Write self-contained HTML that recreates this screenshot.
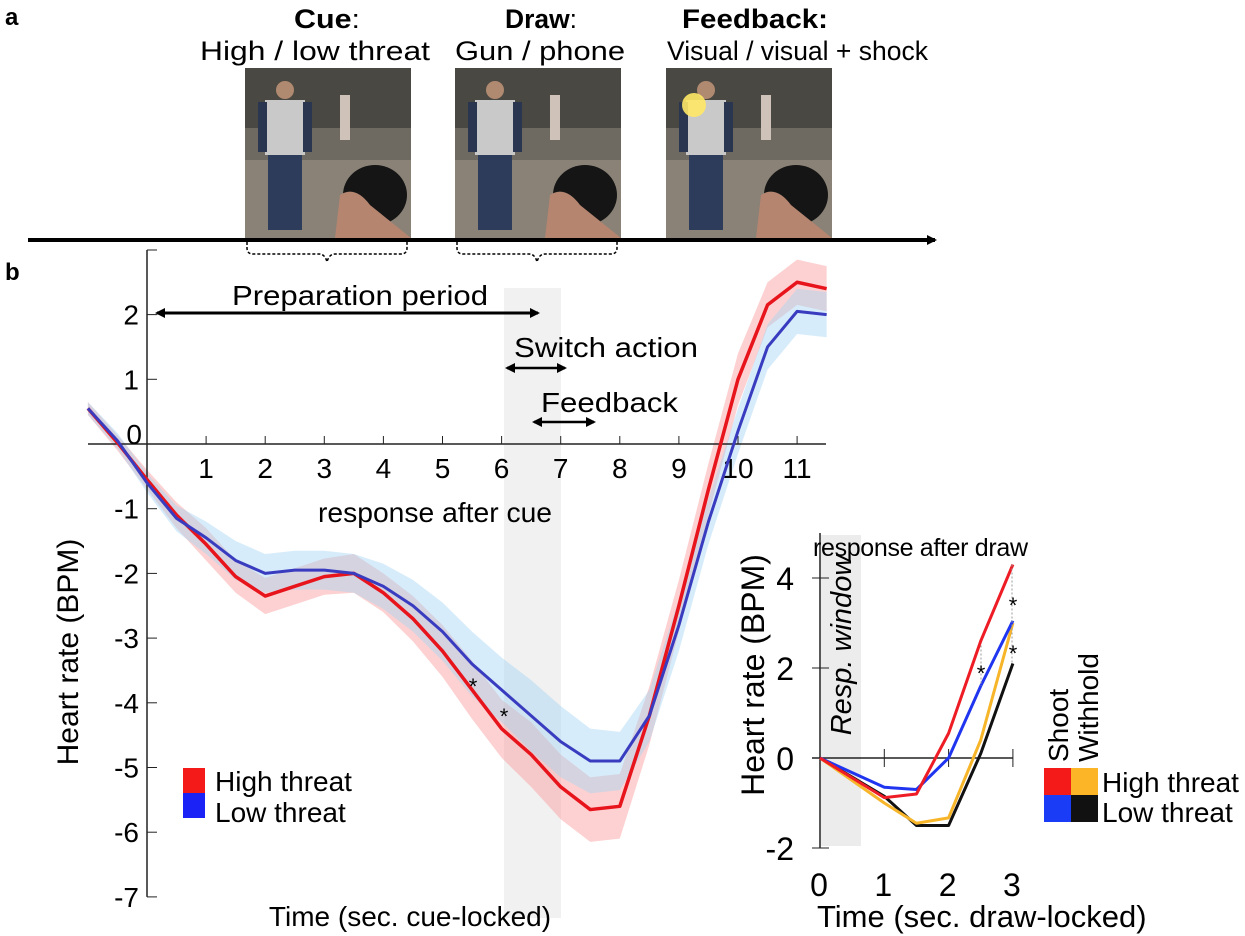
<!DOCTYPE html>
<html><head><meta charset="utf-8"><style>
body{margin:0;background:#fff}
svg{display:block;font-family:"Liberation Sans",Arial,sans-serif}
</style></head><body>
<svg id="s" width="1245" height="936" viewBox="0 0 1245 936">
<defs>
<marker id="ah" markerWidth="10" markerHeight="10" refX="8" refY="5" orient="auto-start-reverse" markerUnits="userSpaceOnUse"><path d="M0,0 L10,5 L0,10 z" fill="#000"/></marker>
</defs>
<text x="5" y="25" font-size="24" font-weight="bold">a</text>
<text x="5" y="280" font-size="24" font-weight="bold">b</text>
<g font-size="27">
<text x="294" y="28" font-weight="bold" textLength="66" lengthAdjust="spacingAndGlyphs">Cue<tspan font-weight="normal">:</tspan></text>
<text x="200" y="60" textLength="230" lengthAdjust="spacingAndGlyphs">High / low threat</text>
<text x="505" y="28" font-weight="bold" textLength="72" lengthAdjust="spacingAndGlyphs">Draw<tspan font-weight="normal">:</tspan></text>
<text x="455" y="60" textLength="170" lengthAdjust="spacingAndGlyphs">Gun / phone</text>
<text x="682" y="28" font-weight="bold" textLength="146" lengthAdjust="spacingAndGlyphs">Feedback:</text>
<text x="667" y="60" textLength="261" lengthAdjust="spacingAndGlyphs">Visual / visual + shock</text>
</g>
<g id="imgs"></g>
<line x1="28" y1="240" x2="935" y2="240" stroke="#000" stroke-width="4" marker-end="url(#ah)"/>
<path d="M247,242 v6 q0,6 6,6 h66 q6,0 8,8 q2,-8 8,-8 h66 q6,0 6,-6 v-6" fill="none" stroke="#000" stroke-width="1.5" stroke-dasharray="3,2"/>
<path d="M457,242 v6 q0,6 6,6 h66 q6,0 8,8 q2,-8 8,-8 h66 q6,0 6,-6 v-6" fill="none" stroke="#000" stroke-width="1.5" stroke-dasharray="3,2"/>
<g id="main"></g>
<g id="inset"></g>
</svg>
<script>
const NS="http://www.w3.org/2000/svg";
function mk(p,tag,attrs,txt){const e=document.createElementNS(NS,tag);for(const k in attrs)e.setAttribute(k,attrs[k]);if(txt!==undefined)e.textContent=txt;p.appendChild(e);return e;}
const imgs=document.getElementById('imgs');
const imgX=[245,455,666];
const imgNames=['cue-image','draw-image','feedback-image'];
imgX.forEach((x,i)=>{
 const g=mk(imgs,'g',{});
 
 
 mk(g,'rect',{x:x,y:68,width:166,height:170,fill:'#6e6a62'});
 mk(g,'rect',{x:x,y:68,width:166,height:60,fill:'#4a4842'});
 mk(g,'rect',{x:x,y:160,width:166,height:78,fill:'#8a8276'});
 mk(g,'rect',{x:x+95,y:95,width:10,height:45,fill:'#cfc2b8'});
 mk(g,'rect',{x:x+20,y:100,width:40,height:55,fill:'#c9c9c9'});
 mk(g,'rect',{x:x+13,y:102,width:9,height:50,fill:'#2a3550'});
 mk(g,'rect',{x:x+58,y:102,width:9,height:50,fill:'#2a3550'});
 mk(g,'circle',{cx:x+40,cy:90,r:9,fill:'#b08a70'});
 mk(g,'rect',{x:x+23,y:155,width:34,height:75,fill:'#2e3c5c'});
 mk(g,'ellipse',{cx:x+130,cy:195,rx:32,ry:30,fill:'#151515'});
 mk(g,'path',{d:`M${x+90},${238} L${x+95},${195} Q${x+110},${185} ${x+125},${205} L${x+166},${238} z`,fill:'#b58570'});
 if(i===2) mk(g,'circle',{cx:x+28,cy:105,r:12,fill:'#ffe866',opacity:0.9});
});

const times=[-1,-0.5,0,0.5,1,1.5,2,2.5,3,3.5,4,4.5,5,5.5,6,6.5,7,7.5,8,8.5,9,9.5,10,10.5,11,11.5];
const highThreat=[0.55,0.02,-0.55,-1.1,-1.55,-2.05,-2.35,-2.2,-2.05,-2.0,-2.3,-2.7,-3.2,-3.8,-4.4,-4.8,-5.3,-5.65,-5.6,-4.2,-2.5,-0.7,1.0,2.15,2.5,2.4];
const lowThreat=[0.55,0.05,-0.6,-1.15,-1.45,-1.8,-2.0,-1.95,-1.95,-2.0,-2.2,-2.5,-2.9,-3.4,-3.8,-4.2,-4.6,-4.9,-4.9,-4.2,-2.8,-1.2,0.2,1.5,2.05,2.0];
const highErr=[0.1,0.12,0.15,0.2,0.25,0.25,0.28,0.28,0.28,0.3,0.3,0.35,0.4,0.45,0.45,0.5,0.5,0.5,0.5,0.45,0.4,0.4,0.4,0.35,0.35,0.35];
const lowErr=[0.1,0.12,0.15,0.2,0.25,0.3,0.3,0.3,0.3,0.3,0.35,0.4,0.45,0.5,0.5,0.55,0.55,0.5,0.45,0.4,0.4,0.35,0.35,0.35,0.35,0.35];
const yTicks=[2,1,0,-1,-2,-3,-4,-5,-6,-7];
const xTicks=[1,2,3,4,5,6,7,8,9,10,11];
const X=t=>147+59.1*t, Y=v=>444-64.7*v;
const m=document.getElementById('main');
let e;
e=mk(m,'rect',{x:504,y:288,width:57,height:630,fill:'#e8e8e8',opacity:0.6});


function band(vals,err,fill,name){
 let d='M'+times.map((t,i)=>X(t)+','+Y(vals[i]+err[i])).join(' L');
 d+=' L'+times.slice().reverse().map((t,j)=>{const i=times.length-1-j;return X(t)+','+Y(vals[i]-err[i]);}).join(' L')+'z';
 const p=mk(m,'path',{d:d,fill:fill,opacity:0.45});
 
 
}
band(highThreat,highErr,'#fb9a9a','high-threat-band');
band(lowThreat,lowErr,'#a6d4f5','low-threat-band');
e=mk(m,'line',{x1:147,y1:250,x2:147,y2:Y(-7),stroke:'#222','stroke-width':1.5});


e=mk(m,'line',{x1:88,y1:Y(0),x2:826,y2:Y(0),stroke:'#222','stroke-width':1.5});


mk(m,'line',{x1:147,y1:250,x2:157,y2:250,stroke:'#222'});
yTicks.forEach(v=>{
 mk(m,'line',{x1:147,y1:Y(v),x2:157,y2:Y(v),stroke:'#222'});
 e=mk(m,'text',{x:v===0?142:139,y:Y(v)+(v===0?0:10),'font-size':28,'text-anchor':'end'},String(v));
 
 
});
xTicks.forEach(t=>{
 mk(m,'line',{x1:X(t),y1:Y(0),x2:X(t),y2:Y(0)-8,stroke:'#222'});
 e=mk(m,'text',{x:X(t),y:Y(0)+34,'font-size':28,'text-anchor':'middle'},String(t));
 
 
});
function line(vals,col,name,w){
 const p=mk(m,'polyline',{points:times.map((t,i)=>X(t)+','+Y(vals[i])).join(' '),fill:'none',stroke:col,'stroke-width':w,'stroke-linejoin':'round'});
 
 
}
line(highThreat,'#e8141c','high-threat-line',3.5);
line(lowThreat,'#3a3cc0','low-threat-line',3);
e=mk(m,'line',{x1:157,y1:313,x2:538,y2:313,stroke:'#000','stroke-width':3,'marker-start':'url(#ah)','marker-end':'url(#ah)'});


e=mk(m,'text',{x:232,y:305,'font-size':28,textLength:256,lengthAdjust:'spacingAndGlyphs'},'Preparation period');


e=mk(m,'text',{x:514,y:357,'font-size':28,textLength:184,lengthAdjust:'spacingAndGlyphs'},'Switch action');


e=mk(m,'line',{x1:507,y1:368,x2:565,y2:368,stroke:'#000','stroke-width':2.5,'marker-start':'url(#ah)','marker-end':'url(#ah)'});


e=mk(m,'text',{x:541,y:412,'font-size':28,textLength:137,lengthAdjust:'spacingAndGlyphs'},'Feedback');


e=mk(m,'line',{x1:534,y1:422,x2:594,y2:422,stroke:'#000','stroke-width':2.5,'marker-start':'url(#ah)','marker-end':'url(#ah)'});


e=mk(m,'text',{x:318,y:522,'font-size':28,textLength:234,lengthAdjust:'spacingAndGlyphs'},'response after cue');


e=mk(m,'text',{x:473,y:694,'font-size':22,'text-anchor':'middle'},'*');


e=mk(m,'text',{x:504,y:724,'font-size':22,'text-anchor':'middle'},'*');


e=mk(m,'text',{x:0,y:0,'font-size':30,'text-anchor':'middle',transform:'translate(78,652) rotate(-90)'},'Heart rate (BPM)');


e=mk(m,'text',{x:410,y:926,'font-size':28,'text-anchor':'middle'},'Time (sec. cue-locked)');


e=mk(m,'rect',{x:183,y:768,width:22,height:25,fill:'#f51a1a'});


e=mk(m,'rect',{x:183,y:793,width:22,height:25,fill:'#1a22f5'});


e=mk(m,'text',{x:215,y:791,'font-size':28},'High threat');


e=mk(m,'text',{x:215,y:822,'font-size':28},'Low threat');



const dTimes=[0,1,1.5,2,2.5,3];
const shootHigh=[0,-0.88,-0.8,0.55,2.6,4.3];
const shootLow=[0,-0.65,-0.7,0,1.6,3.05];
const withholdHigh=[0,-1.0,-1.45,-1.33,0.4,3.0];
const withholdLow=[0,-0.85,-1.5,-1.5,0.1,2.1];
const iyTicks=[4,2,0,-2];
const ixTicks=[0,1,2,3];
const IX=t=>820+64.3*t, IY=v=>758-45*v;
const n=document.getElementById('inset');
e=mk(n,'rect',{x:821,y:535,width:40,height:311,fill:'#ececec'});


e=mk(n,'text',{x:0,y:0,'font-size':29,'font-style':'italic','text-anchor':'middle',transform:'translate(851,645) rotate(-90)'},'Resp. window');


e=mk(n,'line',{x1:820,y1:533,x2:820,y2:IY(-2),stroke:'#222','stroke-width':1.5});


e=mk(n,'line',{x1:812,y1:IY(0),x2:IX(3),y2:IY(0),stroke:'#222','stroke-width':1.5});


iyTicks.forEach(v=>{
 mk(n,'line',{x1:812,y1:IY(v),x2:829,y2:IY(v),stroke:'#222'});
 e=mk(n,'text',{x:794,y:IY(v)+12,'font-size':32,'text-anchor':'end'},String(v));
 
 
});
ixTicks.slice(1).forEach(t=>{mk(n,'line',{x1:IX(t),y1:IY(0)-9,x2:IX(t),y2:IY(0)+9,stroke:'#222'});});
ixTicks.forEach(t=>{
 e=mk(n,'text',{x:IX(t)-1,y:896,'font-size':32,'text-anchor':'middle'},String(t));
 
 
});
function iline(vals,col,name){
 const p=mk(n,'polyline',{points:dTimes.map((t,i)=>IX(t)+','+IY(vals[i])).join(' '),fill:'none',stroke:col,'stroke-width':3,'stroke-linejoin':'round'});
 
 
}
iline(withholdLow,'#111','withhold-low-line');
iline(withholdHigh,'#f7b52a','withhold-high-line');
iline(shootLow,'#2035f0','shoot-low-line');
iline(shootHigh,'#ee1c24','shoot-high-line');
mk(n,'line',{x1:981,y1:IY(2.5),x2:981,y2:IY(1.6),stroke:'#999','stroke-dasharray':'2,2'});
mk(n,'line',{x1:1012,y1:IY(4.3),x2:1012,y2:IY(2.1),stroke:'#999','stroke-dasharray':'2,2'});
[[981,681],[1013,613],[1013,661]].forEach(p=>{
 e=mk(n,'text',{x:p[0],y:p[1],'font-size':22,'text-anchor':'middle'},'*');
 
 
});
e=mk(n,'text',{x:813,y:556,'font-size':25,textLength:215,lengthAdjust:'spacing'},'response after draw');


e=mk(n,'text',{x:0,y:0,'font-size':32,'text-anchor':'middle',transform:'translate(764,675) rotate(-90)'},'Heart rate (BPM)');


e=mk(n,'text',{x:817,y:927,'font-size':31},'Time (sec. draw-locked)');


const sw=[[1044,768,'#f51a1a','legend-shoot-high'],[1071,768,'#fcb527','legend-withhold-high'],[1044,795,'#1a3cf7','legend-shoot-low'],[1071,795,'#111','legend-withhold-low']];
sw.forEach(s=>{
 e=mk(n,'rect',{x:s[0],y:s[1],width:27,height:27,fill:s[2]});
 
 
});
e=mk(n,'text',{x:1102,y:792,'font-size':28},'High threat');


e=mk(n,'text',{x:1102,y:822,'font-size':28},'Low threat');


e=mk(n,'text',{x:0,y:0,'font-size':28,transform:'translate(1068,762) rotate(-90)'},'Shoot');


e=mk(n,'text',{x:0,y:0,'font-size':28,transform:'translate(1098,762) rotate(-90)'},'Withhold');


</script>
</body></html>
